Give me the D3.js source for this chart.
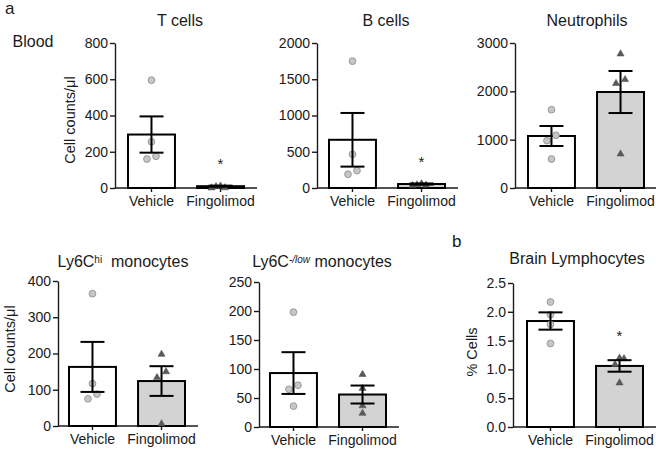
<!DOCTYPE html>
<html>
<head>
<meta charset="utf-8">
<script src="https://cdn.jsdelivr.net/npm/d3@7"></script>
<style>
  html, body { margin: 0; padding: 0; background: #fff; }
  svg { display: block; font-family: "Liberation Sans", Arial, Helvetica, sans-serif; }
</style>
</head>
<body>
<svg id="chart" width="656" height="449"></svg>
<script>
// ---- data ----
const categories = ["Vehicle", "Fingolimod"];

const tCellMeans = [295, 10];
const tCellSem = [100, 3];
const tCellPoints = [[595, 255, 175, 160], [15, 5, 12, 6]];
const tCellSig = ["", "*"];
const tCellTicks = [0, 200, 400, 600, 800];

const bCellMeans = [665, 55];
const bCellSem = [370, 8];
const bCellPoints = [[1750, 465, 240, 190], [70, 50, 45, 55]];
const bCellSig = ["", "*"];
const bCellTicks = [0, 500, 1000, 1500, 2000];

const neutroMeans = [1076, 1986];
const neutroSem = [207, 435];
const neutroPoints = [[1620, 1090, 980, 600], [2790, 2260, 2180, 720]];
const neutroSig = ["", ""];
const neutroTicks = [0, 1000, 2000, 3000];

const ly6hiMeans = [163, 124];
const ly6hiSem = [69, 41];
const ly6hiPoints = [[365, 117, 88, 75], [200, 152, 136, 8]];
const ly6hiSig = ["", ""];
const ly6hiTicks = [0, 100, 200, 300, 400];

const ly6lowMeans = [93, 56];
const ly6lowSem = [36, 15.5];
const ly6lowPoints = [[198, 72, 65, 36], [92, 68, 38, 25]];
const ly6lowSig = ["", ""];
const ly6lowTicks = [0, 50, 100, 150, 200, 250];

const brainMeans = [1.84, 1.06];
const brainSem = [0.15, 0.1];
const brainPoints = [[2.17, 1.95, 1.78, 1.45], [1.21, 1.2, 1.1, 0.78]];
const brainSig = ["", "*"];
const brainTicks = [0, 0.5, 1.0, 1.5, 2.0, 2.5];

// ---- drawing ----
const svg = d3.select("#chart");
const FONT_TICK = 14, FONT_TITLE = 16;
const barFill = ["#ffffff", "#d3d3d3"];
const ink = "#1a1a1a";

function drawPanel(p) {
  const g = svg.append("g");
  const y = d3.scaleLinear().domain([0, p.ticks[p.ticks.length - 1]]).range([p.yBot, p.yTop]);
  const x = d3.scaleBand().domain(categories)
    .range([p.x0 + p.inset, p.x0 + p.inset + 116]).paddingInner(0.32).paddingOuter(0);
  const xEnd = p.x0 + p.inset + 116 + 13;

  // y axis
  const yAxis = d3.axisLeft(y).tickValues(p.ticks).tickSize(5).tickSizeOuter(0).tickPadding(2)
    .tickFormat(p.fmt || d3.format("d"));
  const ya = g.append("g").attr("transform", `translate(${p.x0},0)`).call(yAxis);
  ya.selectAll("path, line").attr("stroke", ink).attr("stroke-width", 1.4);
  ya.selectAll("text").attr("fill", ink).attr("font-size", FONT_TICK)
    .attr("font-family", "Liberation Sans, Arial, sans-serif");

  // x axis
  g.append("line").attr("x1", p.x0).attr("x2", xEnd).attr("y1", y(0)).attr("y2", y(0))
    .attr("stroke", ink).attr("stroke-width", 1.4);
  categories.forEach(c => {
    const cx = x(c) + x.bandwidth() / 2;
    g.append("line").attr("x1", cx).attr("x2", cx).attr("y1", y(0)).attr("y2", y(0) + 4)
      .attr("stroke", ink).attr("stroke-width", 1.4);
    g.append("text").attr("x", cx).attr("y", y(0) + 18).attr("text-anchor", "middle")
      .attr("font-size", FONT_TICK).attr("fill", ink).text(c);
  });

  // bars
  categories.forEach((c, i) => {
    g.append("rect").attr("x", x(c)).attr("width", x.bandwidth())
      .attr("y", y(p.means[i])).attr("height", y(0) - y(p.means[i]))
      .attr("fill", barFill[i]).attr("stroke", "#000").attr("stroke-width", 2);
  });

  // points (simple swarm: clusters of close points spread sideways)
  const r = 3.4, d = 4.5;
  categories.forEach((c, i) => {
    const cx = x(c) + x.bandwidth() / 2;
    const pts = p.points[i].map(v => ({ v, py: y(v), off: 0 }));
    const sorted = pts.slice().sort((a, b) => a.py - b.py);
    let cluster = [sorted[0]];
    const clusters = [];
    for (let k = 1; k < sorted.length; k++) {
      if (sorted[k].py - cluster[cluster.length - 1].py < 2 * r + 0.5) cluster.push(sorted[k]);
      else { clusters.push(cluster); cluster = [sorted[k]]; }
    }
    clusters.push(cluster);
    clusters.forEach(cl => {
      if (cl.length === 2) { cl[0].off = d; cl[1].off = -d; }
      else if (cl.length === 3) { cl[0].off = 0; cl[1].off = d; cl[2].off = -d; }
      else if (cl.length >= 4) cl.forEach((q, k) => q.off = (k % 2 ? -1 : 1) * d * Math.ceil(k / 2));
    });
    pts.forEach(q => {
      if (i === 0) {
        g.append("circle").attr("cx", cx + q.off).attr("cy", q.py).attr("r", r)
          .attr("fill", "#c6c6c6").attr("stroke", "#8a8a8a").attr("stroke-width", 0.8);
      } else {
        g.append("path").attr("d", d3.symbol(d3.symbolTriangle, 22)())
          .attr("transform", `translate(${cx + q.off},${q.py + 0.8})`)
          .attr("fill", "#5a5a5a").attr("stroke", "#4a4a4a").attr("stroke-width", 0.5);
      }
    });
  });

  // error bars
  categories.forEach((c, i) => {
    const cx = x(c) + x.bandwidth() / 2;
    const hi = y(p.means[i] + p.sem[i]), lo = y(p.means[i] - p.sem[i]);
    const cw = 12;
    g.append("line").attr("x1", cx).attr("x2", cx).attr("y1", hi).attr("y2", lo)
      .attr("stroke", "#000").attr("stroke-width", 2);
    [hi, lo].forEach(yy => g.append("line").attr("x1", cx - cw).attr("x2", cx + cw)
      .attr("y1", yy).attr("y2", yy).attr("stroke", "#000").attr("stroke-width", 2));
  });

  // significance
  categories.forEach((c, i) => {
    if (!p.sig[i]) return;
    const cx = x(c) + x.bandwidth() / 2;
    const top = Math.min(y(p.means[i] + p.sem[i]), d3.min(p.points[i], v => y(v)));
    g.append("text").attr("x", cx).attr("y", top - 24 + 8).attr("text-anchor", "middle")
      .attr("font-size", 15).attr("fill", ink).text(p.sig[i]);
  });

  // title
  const t = g.append("text").attr("x", p.titleX).attr("y", p.titleY).attr("text-anchor", "middle")
    .attr("font-size", FONT_TITLE).attr("fill", ink);
  p.title.forEach(part => {
    const ts = t.append("tspan").text(part.text);
    if (part.sup) ts.attr("font-size", 10).attr("baseline-shift", "45%");
    if (part.italic) ts.attr("font-style", "italic");
  });

  // y label
  if (p.ylabel) {
    g.append("text").attr("transform", `translate(${p.ylabelX},${p.ylabelY}) rotate(-90)`)
      .attr("text-anchor", "middle").attr("font-size", 14.5).attr("fill", ink).text(p.ylabel);
  }
}

const panels = [
  { means: tCellMeans, sem: tCellSem, points: tCellPoints, sig: tCellSig, ticks: tCellTicks,
    x0: 115, inset: 13, yTop: 43, yBot: 188, title: [{ text: "T cells" }], titleX: 180, titleY: 26,
    ylabel: "Cell counts/\u03bcl", ylabelX: 75, ylabelY: 120 },
  { means: bCellMeans, sem: bCellSem, points: bCellPoints, sig: bCellSig, ticks: bCellTicks,
    x0: 317, inset: 12, yTop: 43, yBot: 188, title: [{ text: "B cells" }], titleX: 386, titleY: 26 },
  { means: neutroMeans, sem: neutroSem, points: neutroPoints, sig: neutroSig, ticks: neutroTicks,
    x0: 515, inset: 13, yTop: 43, yBot: 188, title: [{ text: "Neutrophils" }], titleX: 587, titleY: 26 },
  { means: ly6hiMeans, sem: ly6hiSem, points: ly6hiPoints, sig: ly6hiSig, ticks: ly6hiTicks,
    x0: 58, inset: 11, yTop: 281, yBot: 426,
    title: [{ text: "Ly6C" }, { text: "hi", sup: true }, { text: "\u00a0\u00a0monocytes" }], titleX: 123, titleY: 267,
    ylabel: "Cell counts/\u03bcl", ylabelX: 15, ylabelY: 349 },
  { means: ly6lowMeans, sem: ly6lowSem, points: ly6lowPoints, sig: ly6lowSig, ticks: ly6lowTicks,
    x0: 259, inset: 11, yTop: 282, yBot: 427,
    title: [{ text: "Ly6C" }, { text: "-/low", sup: true, italic: true }, { text: " monocytes" }], titleX: 322, titleY: 267 },
  { means: brainMeans, sem: brainSem, points: brainPoints, sig: brainSig, ticks: brainTicks, fmt: d3.format(".1f"),
    x0: 513, inset: 14, yTop: 283, yBot: 427, title: [{ text: "Brain Lymphocytes" }], titleX: 577, titleY: 264,
    ylabel: "% Cells", ylabelX: 477, ylabelY: 352 }
];
panels.forEach(drawPanel);

// panel letters and row label
svg.append("text").attr("x", 5).attr("y", 14).attr("font-size", 17).attr("fill", ink).text("a");
svg.append("text").attr("x", 452).attr("y", 247).attr("font-size", 17).attr("fill", ink).text("b");
svg.append("text").attr("x", 12.5).attr("y", 47).attr("font-size", 16).attr("fill", ink).text("Blood");
</script>
</body>
</html>
